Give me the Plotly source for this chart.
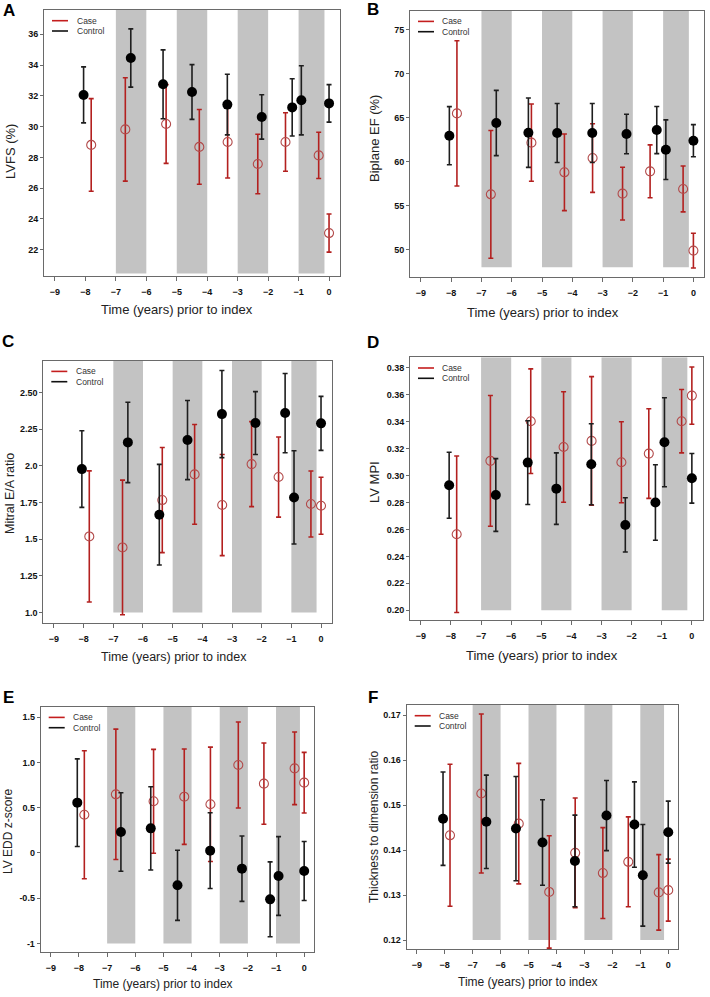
import plotly.graph_objects as go

W, H = 710, 997

# ---------------- data ----------------
# mean time of each visit, years prior to index
control_x = [-8.06, -6.51, -5.45, -4.50, -3.34, -2.21, -1.21, -0.91, 0.0]
case_x = [-7.81, -6.69, -5.35, -4.26, -3.33, -2.34, -1.43, -0.34, 0.0]

# A - LVFS (%)
lvfs_control = [32.06, 34.46, 32.75, 32.25, 31.43, 30.63, 31.25, 31.71, 31.51]
lvfs_control_ci = [1.82, 1.89, 2.24, 1.78, 1.97, 1.44, 1.86, 2.25, 1.22]
lvfs_case = [28.81, 29.82, 30.17, 28.68, 29.00, 27.57, 29.00, 28.13, 23.08]
lvfs_case_ci = [3.01, 3.36, 2.56, 2.43, 2.34, 1.93, 1.90, 1.50, 1.24]

# B - Biplane EF (%)
ef_control = [62.94, 64.38, 63.28, 63.24, 63.24, 63.13, 63.58, 61.35, 62.37]
ef_control_ci = [3.30, 3.70, 3.94, 3.35, 3.35, 2.25, 2.68, 3.38, 1.83]
ef_case = [65.47, 56.28, 62.15, 58.78, 60.40, 56.36, 58.89, 56.89, 49.89]
ef_case_ci = [8.25, 7.25, 4.39, 4.35, 3.90, 3.00, 3.00, 2.60, 1.97]

# C - Mitral E/A ratio
ea_control = [1.977, 2.159, 1.666, 2.175, 2.352, 2.291, 2.359, 1.784, 2.289]
ea_control_ci = [0.261, 0.274, 0.343, 0.270, 0.297, 0.214, 0.270, 0.318, 0.184]
ea_case = [1.518, 1.443, 1.766, 1.941, 1.732, 2.011, 1.923, 1.739, 1.727]
ea_case_ci = [0.447, 0.459, 0.358, 0.340, 0.345, 0.290, 0.273, 0.225, 0.194]

# D - LV MPI
mpi_control = [0.2927, 0.2855, 0.3095, 0.2902, 0.3083, 0.2633, 0.2799, 0.3246, 0.2979]
mpi_control_ci = [0.0245, 0.0270, 0.0310, 0.0265, 0.0300, 0.0201, 0.0280, 0.0330, 0.0184]
mpi_case = [0.2564, 0.3108, 0.3402, 0.3211, 0.3256, 0.3098, 0.3162, 0.3402, 0.3592]
mpi_case_ci = [0.0580, 0.0485, 0.0388, 0.0410, 0.0477, 0.0300, 0.0332, 0.0235, 0.0212]

# E - LV EDD z-score
edd_control = [0.556, 0.232, 0.272, -0.357, 0.026, -0.173, -0.512, -0.254, -0.199]
edd_control_ci = [0.484, 0.433, 0.460, 0.387, 0.418, 0.361, 0.414, 0.435, 0.326]
edd_case = [0.423, 0.648, 0.571, 0.622, 0.538, 0.972, 0.766, 0.935, 0.777]
edd_case_ci = [0.707, 0.720, 0.574, 0.527, 0.632, 0.475, 0.449, 0.401, 0.335]

# F - Thickness to dimension ratio
ttd_control = [0.1470, 0.1463, 0.1448, 0.1417, 0.1376, 0.1477, 0.1457, 0.1344, 0.1440]
ttd_control_ci = [0.0104, 0.0104, 0.0116, 0.0095, 0.0102, 0.0078, 0.0095, 0.0113, 0.0069]
ttd_case = [0.1433, 0.1526, 0.1459, 0.1307, 0.1394, 0.1349, 0.1374, 0.1306, 0.1311]
ttd_case_ci = [0.0158, 0.0177, 0.0134, 0.0125, 0.0122, 0.0101, 0.0100, 0.0084, 0.0069]

# shaded year bands
band_start = [-7, -5, -3, -1]
band_end = [-6, -4, -2, -0.15]

x_ticks = [-9, -8, -7, -6, -5, -4, -3, -2, -1, 0]
x_title = "Time (years) prior to index"

############################ PANEL SETUP ######################################
# box = plot area in pixels (left, top, right, bottom)
panels = [
    dict(tag="A", box=(44, 10, 340, 276), ytitle="LVFS (%)",
         control=lvfs_control, control_ci=lvfs_control_ci, case=lvfs_case, case_ci=lvfs_case_ci,
         yrange=[20.29, 37.58], band_lo=20.45,
         yticks=[22, 24, 26, 28, 30, 32, 34, 36], yticktext=None,
         xt=(177, 310), yt=(11, 152), lab=(9, 10), fs=13),
    dict(tag="B", box=(410, 10.7, 704.3, 277.3), ytitle="Biplane EF (%)",
         control=ef_control, control_ci=ef_control_ci, case=ef_case, case_ci=ef_case_ci,
         yrange=[46.86, 77.13], band_lo=48,
         yticks=[50, 55, 60, 65, 70, 75], yticktext=None,
         xt=(543, 312), yt=(375, 139), lab=(373, 9), fs=13),
    dict(tag="C", box=(43.3, 360.7, 331.7, 622.7), ytitle="Mitral E/A ratio",
         control=ea_control, control_ci=ea_control_ci, case=ea_case, case_ci=ea_case_ci,
         yrange=[0.93, 2.716], band_lo=1.0,
         yticks=[1.0, 1.25, 1.5, 1.75, 2.0, 2.25, 2.5],
         yticktext=["1.0", "1.25", "1.5", "1.75", "2.0", "2.25", "2.50"],
         xt=(174, 657), yt=(10, 494), lab=(8, 341), fs=12.5),
    dict(tag="D", box=(410, 357.3, 702.7, 620), ytitle="LV MPI",
         control=mpi_control, control_ci=mpi_control_ci, case=mpi_case, case_ci=mpi_case_ci,
         yrange=[0.1928, 0.3876], band_lo=0.20,
         yticks=[0.20, 0.22, 0.24, 0.26, 0.28, 0.30, 0.32, 0.34, 0.36, 0.38],
         yticktext=["0.20", "0.22", "0.24", "0.26", "0.28", "0.30", "0.32", "0.34", "0.36", "0.38"],
         xt=(542, 655), yt=(374, 482), lab=(373, 342), fs=13),
    dict(tag="E", box=(40.7, 706.7, 314.3, 952.3), ytitle="LV EDD z-score",
         control=edd_control, control_ci=edd_control_ci, case=edd_case, case_ci=edd_case_ci,
         yrange=[-1.097, 1.616], band_lo=-1,
         yticks=[-1, -0.5, 0, 0.5, 1.0, 1.5],
         yticktext=["-1", "-0.5", "0", "0.5", "1.0", "1.5"],
         xt=(163, 984), yt=(8, 832), lab=(8, 697), fs=12),
    dict(tag="F", box=(406.7, 705, 678.3, 949), ytitle="Thickness to dimension ratio",
         control=ttd_control, control_ci=ttd_control_ci, case=ttd_case, case_ci=ttd_case_ci,
         yrange=[0.118, 0.1723], band_lo=0.12,
         yticks=[0.12, 0.13, 0.14, 0.15, 0.16, 0.17],
         yticktext=["0.12", "0.13", "0.14", "0.15", "0.16", "0.17"],
         xt=(528, 982), yt=(374, 827), lab=(373, 697), fs=12),
]

CASE_BAR = "#b3201f"
CASE_PT = "#b24a4a"
CTRL_BAR = "#1e1e1e"
BAND = "#c3c3c3"
FRAME = "#6a6a6a"
FONT = "Arial, Liberation Sans, sans-serif"


def fx(px):
    return px / W


def fy(py):
    return 1 - py / H


fig = go.Figure()
shapes = []
annotations = []
layout = {}

for i, p in enumerate(panels):
    n = "" if i == 0 else str(i + 1)
    xa, ya = "x" + n, "y" + n
    l, t, r, b = p["box"]

    # case first so that control draws on top
    fig.add_trace(go.Scatter(
        x=case_x, y=p["case"], xaxis=xa, yaxis=ya, mode="markers", showlegend=False,
        marker=dict(symbol="circle-open", size=9, color=CASE_PT, line=dict(width=1.1, color=CASE_PT)),
        error_y=dict(type="data", array=p["case_ci"], color=CASE_BAR, thickness=1.6, width=2.5)))
    fig.add_trace(go.Scatter(
        x=control_x, y=p["control"], xaxis=xa, yaxis=ya, mode="markers", showlegend=False,
        marker=dict(symbol="circle", size=10, color="#000000"),
        error_y=dict(type="data", array=p["control_ci"], color=CTRL_BAR, thickness=1.6, width=2.5)))

    axis_common = dict(showline=True, mirror=True, linecolor=FRAME, linewidth=1,
                       ticks="outside", ticklen=4, tickcolor=FRAME, showgrid=False,
                       zeroline=False,
                       tickfont=dict(family=FONT, size=9, color="#111", weight="bold"))
    layout["xaxis" + n] = dict(axis_common, domain=[fx(l), fx(r)], anchor=ya,
                               range=[-9.36, 0.36], tickvals=x_ticks, ticklabelstandoff=3)
    yax = dict(axis_common, domain=[fy(b), fy(t)], anchor=xa, range=p["yrange"],
               tickvals=p["yticks"], ticklen=3)
    if p["yticktext"]:
        yax["ticktext"] = p["yticktext"]
    layout["yaxis" + n] = yax

    # grey year bands
    for s, e in zip(band_start, band_end):
        shapes.append(dict(type="rect", xref=xa, yref=ya, x0=s, x1=e,
                           y0=p["band_lo"], y1=p["yrange"][1],
                           fillcolor=BAND, line=dict(width=0), layer="below"))

    # legend drawn by hand inside the top-left corner
    for k, (name, col) in enumerate([("Case", "#c41e1e"), ("Control", "#111111")]):
        yy = t + 10.7 + k * 10.3
        shapes.append(dict(type="line", xref="paper", yref="paper",
                           x0=fx(l + 8), x1=fx(l + 24), y0=fy(yy), y1=fy(yy),
                           line=dict(color=col, width=1.6)))
        annotations.append(dict(text=name, xref="paper", yref="paper", x=fx(l + 30.5), y=fy(yy),
                                xanchor="left", yanchor="middle", showarrow=False,
                                font=dict(family=FONT, size=8.5, color="#333")))

    # axis titles and panel letter
    annotations.append(dict(text=x_title, xref="paper", yref="paper",
                            x=fx(p["xt"][0]), y=fy(p["xt"][1]), xanchor="center", yanchor="middle",
                            showarrow=False, font=dict(family=FONT, size=p["fs"], color="#222")))
    annotations.append(dict(text=p["ytitle"], xref="paper", yref="paper", textangle=-90,
                            x=fx(p["yt"][0]), y=fy(p["yt"][1]), xanchor="center", yanchor="middle",
                            showarrow=False, font=dict(family=FONT, size=p["fs"], color="#222")))
    annotations.append(dict(text="<b>" + p["tag"] + "</b>", xref="paper", yref="paper",
                            x=fx(p["lab"][0]), y=fy(p["lab"][1]), xanchor="center", yanchor="middle",
                            showarrow=False, font=dict(family=FONT, size=17, color="#000")))

fig.update_layout(**layout)
fig.update_layout(width=W, height=H, margin=dict(l=0, r=0, t=0, b=0),
                  paper_bgcolor="white", plot_bgcolor="white",
                  shapes=shapes, annotations=annotations, showlegend=False)

# page body has a default 8px margin; drop it so the figure sits at 0,0
fig.write_html("out.html", config={"displayModeBar": False},
               post_script="document.body.style.margin='0';")
